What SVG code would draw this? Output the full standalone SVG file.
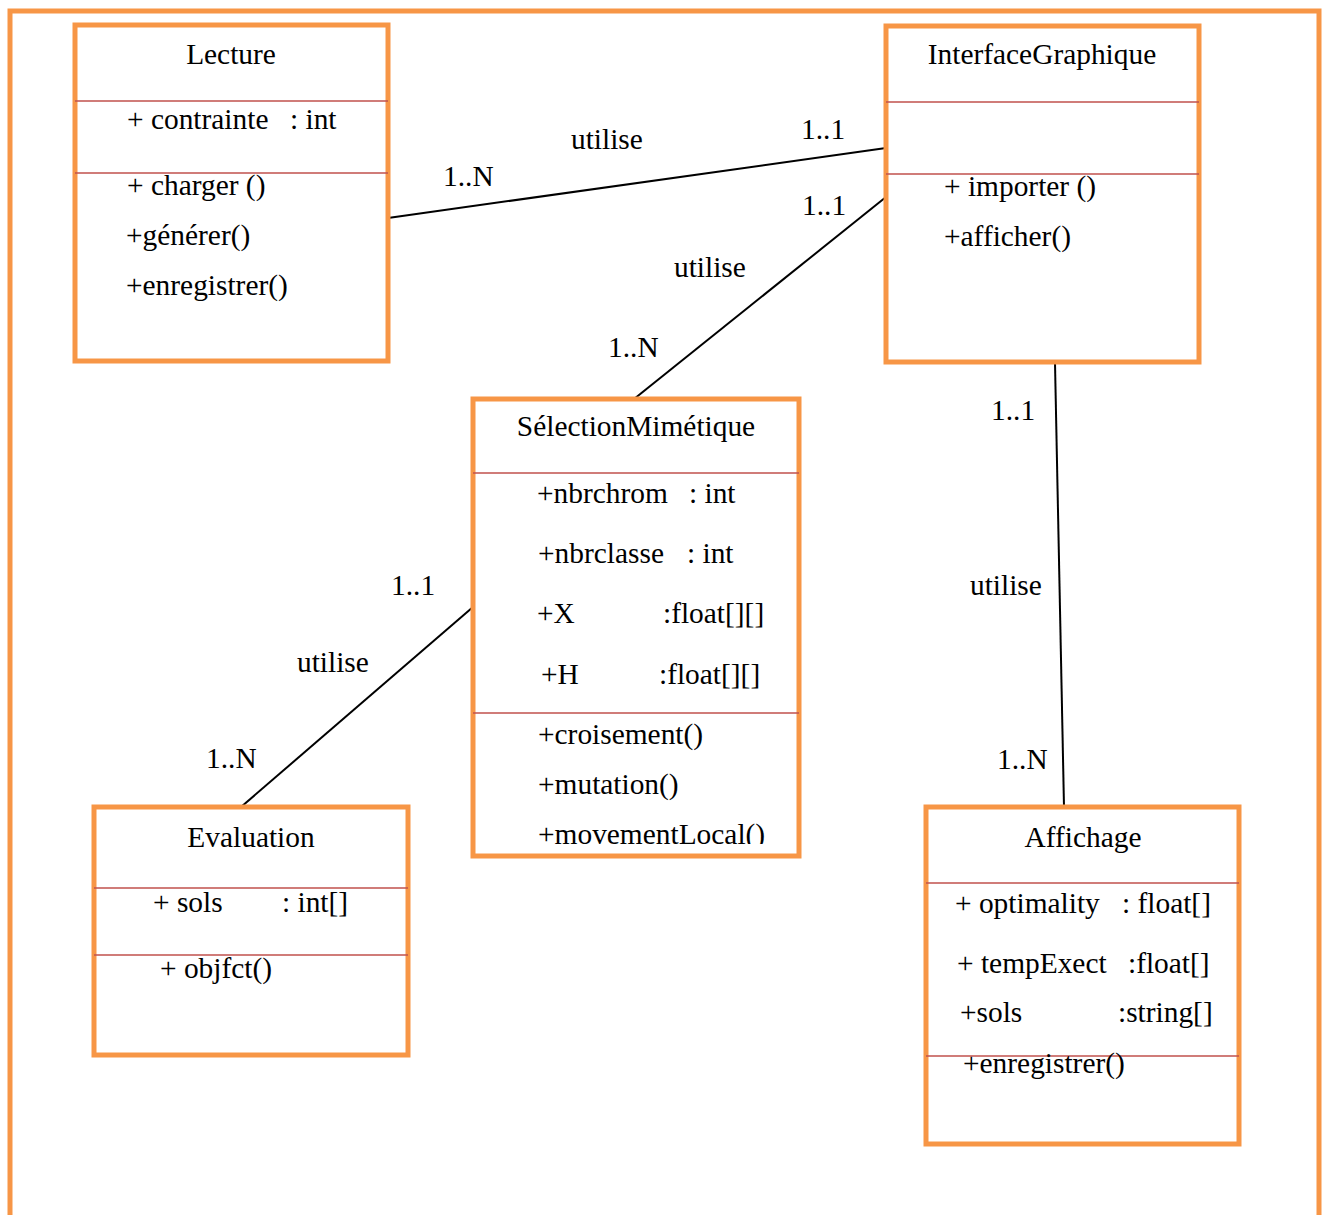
<svg xmlns="http://www.w3.org/2000/svg" width="1322" height="1215" viewBox="0 0 1322 1215">
  <style>
    .frame { fill: none; stroke: #F79646; stroke-width: 5; }
    .box { fill: #FFFFFF; stroke: #F79646; stroke-width: 5; }
    .sep { stroke: #C0504D; stroke-width: 1.6; }
    .conn { stroke: #000000; stroke-width: 2; fill: none; }
    text { font-family: "Liberation Serif", "Times New Roman", serif; font-size: 29.4px; fill: #000000; }
    .title { text-anchor: middle; }
  </style>
  <defs>
    <clipPath id="selClip">
      <rect x="476" y="402" width="320" height="442"/>
    </clipPath>
  </defs>

  <rect width="1322" height="1215" fill="#FFFFFF"/>

  <!-- outer frame (open at the bottom) -->
  <path class="frame" d="M10,1215 V11 H1319 V1215"/>

  <!-- associations -->
  <g id="connectors">
    <line class="conn" x1="388" y1="218" x2="886" y2="148"/>
    <line class="conn" x1="886" y1="197" x2="634" y2="399"/>
    <line class="conn" x1="1055" y1="363" x2="1064" y2="807"/>
    <line class="conn" x1="473" y1="607" x2="241" y2="807"/>

    <text x="571" y="149">utilise</text>
    <text x="801" y="139">1..1</text>
    <text x="443" y="186">1..N</text>

    <text x="802" y="215">1..1</text>
    <text x="674" y="277">utilise</text>
    <text x="608" y="357">1..N</text>

    <text x="991" y="420">1..1</text>
    <text x="970" y="595">utilise</text>
    <text x="997" y="769">1..N</text>

    <text x="391" y="595">1..1</text>
    <text x="297" y="672">utilise</text>
    <text x="206" y="768">1..N</text>
  </g>

  <!-- class Lecture -->
  <g id="Lecture">
    <rect class="box" x="75" y="25" width="313" height="336"/>
    <line class="sep" x1="75" y1="101" x2="388" y2="101"/>
    <line class="sep" x1="75" y1="173" x2="388" y2="173"/>
    <text class="title" x="231" y="64">Lecture</text>
    <text x="127" y="129">+ contrainte</text>
    <text x="290" y="129">: int</text>
    <text x="127" y="195">+ charger ()</text>
    <text x="126" y="245">+générer()</text>
    <text x="126" y="295">+enregistrer()</text>
  </g>

  <!-- class InterfaceGraphique -->
  <g id="InterfaceGraphique">
    <rect class="box" x="886" y="26" width="313" height="336"/>
    <line class="sep" x1="886" y1="102" x2="1199" y2="102"/>
    <line class="sep" x1="886" y1="174" x2="1199" y2="174"/>
    <text class="title" x="1042" y="64">InterfaceGraphique</text>
    <text x="944" y="196">+ importer ()</text>
    <text x="944" y="246">+afficher()</text>
  </g>

  <!-- class SélectionMimétique -->
  <g id="SelectionMimetique">
    <rect class="box" x="473" y="399" width="326" height="457"/>
    <line class="sep" x1="473" y1="473" x2="799" y2="473"/>
    <line class="sep" x1="473" y1="713" x2="799" y2="713"/>
    <g clip-path="url(#selClip)">
      <text class="title" x="636" y="436">SélectionMimétique</text>
      <text x="537" y="503">+nbrchrom</text>
      <text x="689" y="503">: int</text>
      <text x="538" y="563">+nbrclasse</text>
      <text x="687" y="563">: int</text>
      <text x="537" y="623">+X</text>
      <text x="663" y="623">:float[][]</text>
      <text x="541" y="684">+H</text>
      <text x="659" y="684">:float[][]</text>
      <text x="538" y="744">+croisement()</text>
      <text x="538" y="794">+mutation()</text>
      <text x="538" y="844">+movementLocal()</text>
    </g>
  </g>

  <!-- class Evaluation -->
  <g id="Evaluation">
    <rect class="box" x="94" y="807" width="314" height="248"/>
    <line class="sep" x1="94" y1="888" x2="408" y2="888"/>
    <line class="sep" x1="94" y1="955" x2="408" y2="955"/>
    <text class="title" x="251" y="847">Evaluation</text>
    <text x="153" y="912">+ sols</text>
    <text x="282" y="912">: int[]</text>
    <text x="160" y="978">+ objfct()</text>
  </g>

  <!-- class Affichage -->
  <g id="Affichage">
    <rect class="box" x="926" y="807" width="313" height="337"/>
    <line class="sep" x1="926" y1="883" x2="1239" y2="883"/>
    <line class="sep" x1="926" y1="1056" x2="1239" y2="1056"/>
    <text class="title" x="1083" y="847">Affichage</text>
    <text x="955" y="913">+ optimality</text>
    <text x="1122" y="913">: float[]</text>
    <text x="957" y="973">+ tempExect</text>
    <text x="1128" y="973">:float[]</text>
    <text x="960" y="1022">+sols</text>
    <text x="1118" y="1022">:string[]</text>
    <text x="963" y="1073">+enregistrer()</text>
  </g>
</svg>
